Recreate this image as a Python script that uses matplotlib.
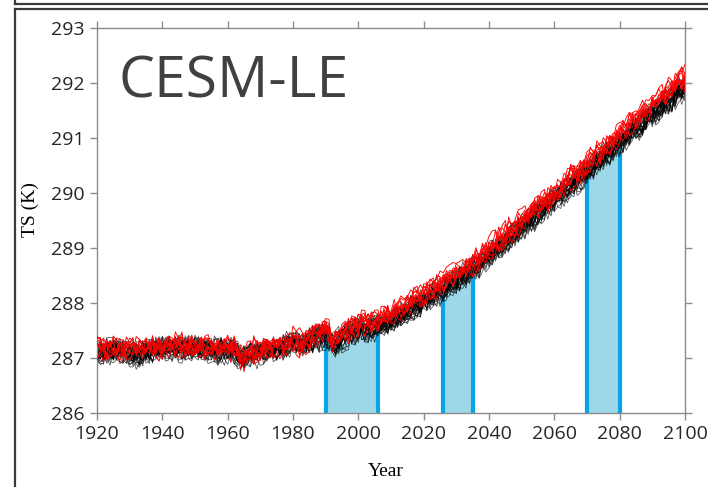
import numpy as np
import matplotlib
matplotlib.use("Agg")
import matplotlib.pyplot as plt
from matplotlib.lines import Line2D

plt.rcParams['font.family'] = ['Open Sans', 'DejaVu Sans']

# ensemble mean of the black members, one value per year 1920-2100 (K)
years = np.arange(1920, 2101)
black_mean = [
    287.10, 287.11, 287.12, 287.11, 287.10, 287.11, 287.12, 287.11, 287.10, 287.09,
    287.08, 287.08, 287.07, 287.08, 287.10, 287.12, 287.13, 287.14, 287.15, 287.16,
    287.17, 287.17, 287.18, 287.18, 287.19, 287.18, 287.18, 287.19, 287.20, 287.19,
    287.18, 287.18, 287.17, 287.16, 287.16, 287.15, 287.14, 287.14, 287.15, 287.14,
    287.13, 287.13, 287.12, 287.05, 286.97, 286.99, 287.03, 287.06, 287.08, 287.09,
    287.10, 287.11, 287.12, 287.12, 287.13, 287.15, 287.17, 287.20, 287.23, 287.25,
    287.26, 287.27, 287.23, 287.22, 287.26, 287.31, 287.33, 287.35, 287.38, 287.40,
    287.41, 287.38, 287.22, 287.24, 287.30, 287.35, 287.39, 287.43, 287.46, 287.48,
    287.49, 287.51, 287.52, 287.54, 287.55, 287.56, 287.58, 287.61, 287.64, 287.66,
    287.68, 287.71, 287.74, 287.78, 287.81, 287.85, 287.88, 287.92, 287.95, 287.99,
    288.03, 288.06, 288.10, 288.13, 288.17, 288.21, 288.24, 288.28, 288.32, 288.36,
    288.40, 288.44, 288.48, 288.53, 288.57, 288.61, 288.66, 288.71, 288.76, 288.81,
    288.86, 288.91, 288.96, 289.01, 289.06, 289.11, 289.16, 289.21, 289.26, 289.31,
    289.36, 289.41, 289.46, 289.51, 289.57, 289.62, 289.67, 289.72, 289.77, 289.83,
    289.88, 289.93, 289.98, 290.03, 290.08, 290.13, 290.18, 290.23, 290.28, 290.33,
    290.38, 290.43, 290.49, 290.54, 290.59, 290.65, 290.70, 290.76, 290.81, 290.87,
    290.92, 290.97, 291.02, 291.07, 291.13, 291.18, 291.23, 291.28, 291.33, 291.38,
    291.43, 291.48, 291.53, 291.58, 291.63, 291.68, 291.73, 291.78, 291.83, 291.87,
    291.92,
]
# how much warmer the red members sit, per decade
red_offset = [0.06, 0.06, 0.06, 0.05, 0.05, 0.06, 0.06, 0.08, 0.10,
              0.12, 0.13, 0.13, 0.14, 0.14, 0.15, 0.16, 0.17, 0.18]
# hand typed year-to-year wiggle pattern, reused by every member
wiggle = [0.3, -0.5, 0.8, 0.1, -0.9, 0.4, -0.2, 0.7, -0.6, 0.0,
          0.9, -0.3, -0.8, 0.5, 0.2, -0.4, 0.6, -1.0, 0.3, 0.7,
          -0.1, -0.7, 0.4, 0.9, -0.5, 0.1, -0.3, 0.8, -0.9, 0.2,
          0.5, -0.6, 0.0, 0.7, -0.2, -0.8, 0.6, 0.3, -0.4, 1.0,
          -0.7, 0.1, 0.4, -0.5, 0.8, -0.1, -0.9, 0.5, 0.2, -0.3,
          0.6, -0.6, 0.9, -0.2, 0.0, -0.8, 0.7, 0.3, -0.5, 0.4,
          -1.0, 0.2, 0.8, -0.4, 0.1, 0.6, -0.7, -0.1, 0.5, -0.3,
          0.9, -0.6, 0.3, 0.0, -0.9, 0.7, -0.2, 0.4, -0.5, 0.8,
          0.1, -0.8, 0.6, -0.3, 0.2, -0.7, 0.9, -0.1, 0.5, -0.4,
          0.0, 0.7, -0.6, 0.3, -0.9, 0.4, 0.1]
n_black = 30
n_red = 10
periods = [(1990, 2006), (2026, 2035), (2070, 2080)]

black_mean = np.array(black_mean)
red_mean = black_mean + np.append(np.repeat(red_offset, 10), red_offset[-1])
wig = np.array(wiggle)
idx = np.arange(len(years))


def member(base, k, amp):
    fast = wig[(idx * (k + 2) + 7 * k) % len(wig)]
    slow = wig[((idx // 3) * (k + 5) + 11 * k) % len(wig)]
    return base + amp * (0.16 * fast + 0.13 * slow)


fig = plt.figure(figsize=(7.08, 4.87), dpi=100)
ax = fig.add_axes([0.137, 0.152, 0.8305, 0.7906])

# shaded periods
for y0, y1 in periods:
    m = (years >= y0) & (years <= y1)
    ax.fill_between(years[m], 286, black_mean[m] - 0.09, color='#9dd8e8', lw=0, zorder=1)
    for yy in (y0, y1):
        ax.vlines(yy, 286, black_mean[years == yy][0] - 0.09, color='#0aa3e3', lw=3, zorder=1.5)

for k in range(n_black):
    ax.plot(years, member(black_mean, k, 1.0), color='black', lw=0.55, alpha=0.7, zorder=2)
for k in range(n_red):
    ax.plot(years, member(red_mean, k + n_black, 1.0), color='red', lw=0.65, zorder=3)

ax.set_xlim(1920, 2100)
ax.set_ylim(286, 293)
ax.set_xticks(range(1920, 2101, 20))
ax.set_yticks(range(286, 294))
ax.tick_params(direction='out', length=5, width=1, color='#8c8c8c', labelsize=14,
               labelcolor='#262626', top=True, right=True, pad=4)
for s in ax.spines.values():
    s.set_color('#8c8c8c')
    s.set_linewidth(1)

fig.text(118 / 708, 1 - 97 / 487, 'CESM-LE', fontsize=41, color='#404040',
         ha='left', va='baseline')
fig.text(30 / 708, 1 - 210 / 487, 'TS (K)', family='Liberation Serif', fontsize=14,
         rotation=90, ha='center', va='center')
fig.text(386 / 708, 1 - 471 / 487, 'Year', family='Liberation Serif', fontsize=14,
         ha='center', va='center')

# slide frame lines
frame = dict(color='#3a3a3a', lw=1.6, transform=fig.transFigure)
fig.add_artist(Line2D([15 / 708, 1], [1 - 4 / 487, 1 - 4 / 487], **frame))
fig.add_artist(Line2D([15 / 708, 15 / 708], [1, 1 - 4 / 487], **frame))
fig.add_artist(Line2D([15 / 708, 1], [1 - 9 / 487, 1 - 9 / 487], **frame))
fig.add_artist(Line2D([15 / 708, 15 / 708], [0, 1 - 9 / 487], **frame))

fig.savefig('out.png', dpi=100)
